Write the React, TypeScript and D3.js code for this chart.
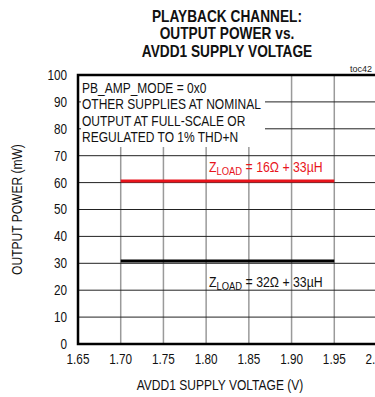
import { useEffect, useRef } from "react";
import * as d3 from "d3";

const xTicks = [1.65, 1.7, 1.75, 1.8, 1.85, 1.9, 1.95, 2.0];
const xTickLabels = ["1.65", "1.70", "1.75", "1.80", "1.85", "1.90", "1.95", "2.00"];
const yTicks = [0, 10, 20, 30, 40, 50, 60, 70, 80, 90, 100];

// series: supply voltage (V) vs output power (mW)
const voltages = [1.7, 1.75, 1.8, 1.85, 1.9, 1.95];
const power16 = [60.6, 60.6, 60.6, 60.6, 60.6, 60.6];
const power32 = [30.9, 30.9, 30.9, 30.9, 30.9, 30.9];

const noteLines = [
  "PB_AMP_MODE = 0x0",
  "OTHER SUPPLIES AT NOMINAL",
  "OUTPUT AT FULL-SCALE OR",
  "REGULATED TO 1% THD+N",
];
const titleLines = ["PLAYBACK CHANNEL:", "OUTPUT POWER vs.", "AVDD1 SUPPLY VOLTAGE"];

const W = 375;
const H = 397;
const FONT = "'Liberation Sans', Arial, sans-serif";

// squeeze text horizontally around its anchor x (no narrow font installed)
function narrow(sel: any, k: number) {
  sel.attr("transform", function (this: SVGTextElement) {
    const ax = +(this.getAttribute("x") || 0);
    return `translate(${ax},0) scale(${k},1) translate(${-ax},0)`;
  });
}

export default function App() {
  const svgRef = useRef<SVGSVGElement | null>(null);

  useEffect(() => {
    if (!svgRef.current) return;
    const svg = d3.select(svgRef.current);
    svg.selectAll("*").remove();

    const x = d3.scaleLinear().domain([1.65, 2.0]).range([78, 377]);
    const y = d3.scaleLinear().domain([0, 100]).range([344, 75]);

    svg.append("rect").attr("width", W).attr("height", H).attr("fill", "#fff");

    // title
    const title = svg
      .append("g")
      .selectAll("text")
      .data(titleLines)
      .join("text")
      .attr("x", 227)
      .attr("y", (_d, i) => 22 + i * 17.5)
      .attr("text-anchor", "middle")
      .attr("font-family", FONT)
      .attr("font-weight", "bold")
      .attr("font-size", 16.5)
      .attr("fill", "#111")
      .text((d) => d);
    narrow(title, 0.83);

    svg
      .append("text")
      .attr("x", 372)
      .attr("y", 72)
      .attr("text-anchor", "end")
      .attr("font-family", FONT)
      .attr("font-size", 9)
      .attr("fill", "#222")
      .text("toc42");

    // grid
    svg
      .append("g")
      .selectAll("line")
      .data(xTicks.slice(1, -1))
      .join("line")
      .attr("x1", (d) => x(d))
      .attr("x2", (d) => x(d))
      .attr("y1", y(100))
      .attr("y2", y(0))
      .attr("stroke", "#9a9a9a")
      .attr("stroke-width", 1.5);

    svg
      .append("g")
      .selectAll("line")
      .data(yTicks.slice(1, -1))
      .join("line")
      .attr("x1", x(1.65))
      .attr("x2", x(2.0))
      .attr("y1", (d) => y(d))
      .attr("y2", (d) => y(d))
      .attr("stroke", "#222")
      .attr("stroke-width", 1);

    // note box (white background hides grid)
    svg
      .append("rect")
      .attr("x", 81)
      .attr("y", y(100))
      .attr("width", 184)
      .attr("height", 147 - y(100))
      .attr("fill", "#fff");

    const notes = svg
      .append("g")
      .selectAll("text")
      .data(noteLines)
      .join("text")
      .attr("x", 82)
      .attr("y", (_d, i) => 93 + i * 16.5)
      .attr("font-family", FONT)
      .attr("font-size", 15)
      .attr("fill", "#111")
      .text((d) => d);
    narrow(notes, 0.8);

    // frame
    svg
      .append("rect")
      .attr("x", x(1.65))
      .attr("y", y(100))
      .attr("width", x(2.0) - x(1.65))
      .attr("height", y(0) - y(100))
      .attr("fill", "none")
      .attr("stroke", "#000")
      .attr("stroke-width", 2.5);

    // series
    const line = d3
      .line<number>()
      .x((_d, i) => x(voltages[i]))
      .y((d) => y(d));

    svg
      .append("path")
      .datum(power16)
      .attr("d", line)
      .attr("fill", "none")
      .attr("stroke", "#e8141c")
      .attr("stroke-width", 3);

    svg
      .append("path")
      .datum(power32)
      .attr("d", line)
      .attr("fill", "none")
      .attr("stroke", "#000")
      .attr("stroke-width", 3);

    // series labels
    const zLabel = (tx: number, ty: number, color: string, rest: string) => {
      const t = svg
        .append("text")
        .attr("x", tx)
        .attr("y", ty)
        .attr("font-family", FONT)
        .attr("font-size", 15)
        .attr("fill", color);
      t.append("tspan").text("Z");
      t.append("tspan").attr("font-size", 11.5).attr("dy", 3).text("LOAD");
      t.append("tspan").attr("dy", -3).text(rest);
      narrow(t, 0.82);
    };
    zLabel(209, 172, "#e8141c", " = 16Ω + 33µH");
    zLabel(209, 287, "#111", " = 32Ω + 33µH");

    // y tick labels
    const yl = svg
      .append("g")
      .selectAll("text")
      .data(yTicks)
      .join("text")
      .attr("x", 67)
      .attr("y", (d) => y(d) + 5)
      .attr("text-anchor", "end")
      .attr("font-family", FONT)
      .attr("font-size", 14)
      .attr("fill", "#111")
      .text((d) => d);
    narrow(yl, 0.84);

    // x tick labels
    const xl = svg
      .append("g")
      .selectAll("text")
      .data(xTicks)
      .join("text")
      .attr("x", (d) => x(d))
      .attr("y", 364)
      .attr("text-anchor", "middle")
      .attr("font-family", FONT)
      .attr("font-size", 14)
      .attr("fill", "#111")
      .text((_d, i) => xTickLabels[i]);
    narrow(xl, 0.84);

    // axis titles
    const xt = svg
      .append("text")
      .attr("x", 220)
      .attr("y", 390)
      .attr("text-anchor", "middle")
      .attr("font-family", FONT)
      .attr("font-size", 14)
      .attr("fill", "#111")
      .text("AVDD1 SUPPLY VOLTAGE (V)");
    narrow(xt, 0.86);

    svg
      .append("text")
      .attr("transform", `translate(22, ${y(50)}) rotate(-90) scale(0.86,1)`)
      .attr("text-anchor", "middle")
      .attr("font-family", FONT)
      .attr("font-size", 14)
      .attr("fill", "#111")
      .text("OUTPUT POWER (mW)");
  }, []);

  return (
    <svg
      ref={svgRef}
      width={W}
      height={H}
      style={{ position: "fixed", left: 0, top: 0, display: "block" }}
    />
  );
}
